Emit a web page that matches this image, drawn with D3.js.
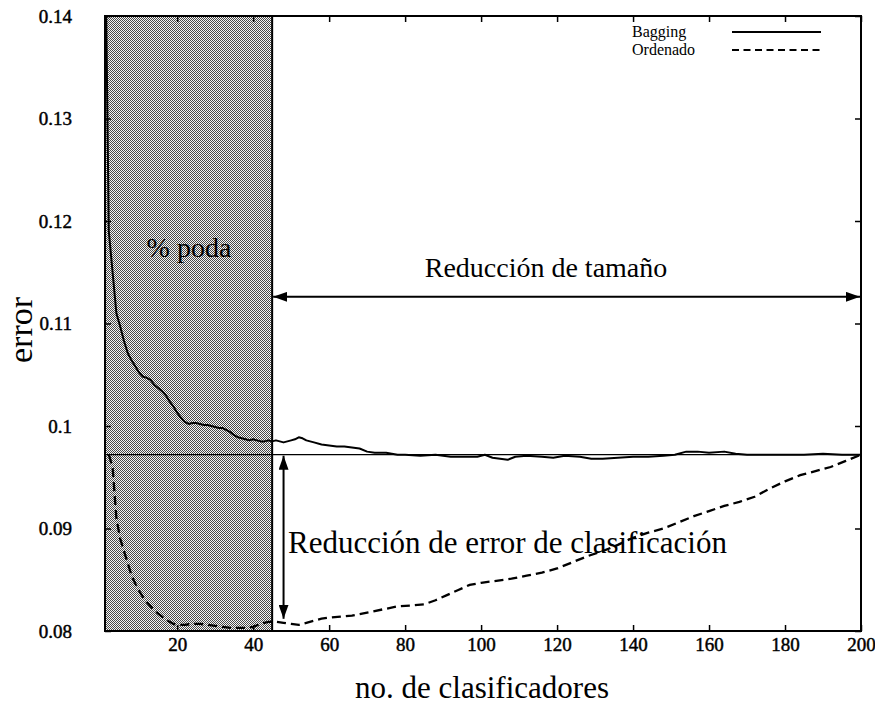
<!DOCTYPE html>
<html>
<head>
<meta charset="utf-8">
<script src="https://cdn.jsdelivr.net/npm/d3@7"></script>
<style>
  html, body { margin: 0; padding: 0; background: #fff; }
  svg { display: block; }
  text { font-family: "Liberation Serif", "Times New Roman", serif; fill: #000; }
</style>
</head>
<body>
<svg id="chart" width="875" height="709"></svg>
<script>
// Error of the full bagging ensemble as classifiers are added
const baggingN = [1,2,3,4,5,6,7,8,9,10,11,12,13,14,15,16,17,18,19,20,21,22,23,24,25,26,27,28,29,30,
  31,32,33,34,35,36,37,38,39,40,41,42,43,44,45,46,47,48,49,50,51,52,53,54,55,56,58,60,62,64,66,68,70,72,75,78,80,84,88,
  92,96,99,101,103,105,107,109,112,116,119,122,126,129,132,136,140,144,148,151,154,157,160,164,167,170,175,180,185,190,195,200];
const baggingErr = [0.1500,0.1190,0.1150,0.1110,0.1097,0.1083,0.1071,0.1064,0.1058,0.1052,0.1048,0.1047,0.1045,0.1040,0.1037,
  0.1034,0.1030,0.1024,0.1019,0.1013,0.1008,0.1004,0.1002,0.1003,0.1003,0.1002,0.1001,0.1001,0.1000,0.0999,
  0.0998,0.0998,0.0996,0.0994,0.0991,0.0989,0.0988,0.0987,0.0986,0.0987,0.0986,0.0985,0.0985,0.0986,0.0985,
  0.0986,0.0985,0.0984,0.0985,0.0986,0.0987,0.0989,0.0988,0.0986,0.0985,0.0984,0.0982,0.0981,0.0980,0.0980,
  0.0979,0.0978,0.0975,0.0974,0.0974,0.0972,0.0972,0.0971,0.0972,0.0970,0.0970,0.0970,0.0972,0.0969,0.0968,
  0.0967,0.0970,0.0971,0.0970,0.0969,0.0971,0.0970,0.0968,0.0968,0.0969,0.0970,0.0970,0.0971,0.0972,0.0975,
  0.0975,0.0974,0.0975,0.0973,0.0972,0.0972,0.0972,0.0972,0.0973,0.0972,0.0972];

// Error of the ordered (pruned) ensemble
const ordenadoN = [2,3,4,5,6,7,8,9,10,11,12,13,14,15,16,17,18,19,20,22,24,26,28,30,32,34,36,38,40,42,44,46,48,50,52,54,56,58,60,
  63,66,70,74,78,82,85,88,91,94,97,100,104,108,112,116,120,124,128,132,136,140,144,148,152,156,160,164,168,172,176,180,184,188,192,196,200];
const ordenadoErr = [0.0972,0.0960,0.0910,0.0890,0.0878,0.0866,0.0854,0.0846,0.0839,0.0833,0.0828,0.0824,0.0820,0.0817,0.0814,
  0.0811,0.0809,0.0807,0.0806,0.0806,0.0807,0.0807,0.0806,0.0805,0.0804,0.0803,0.0803,0.0803,0.0804,0.0807,0.0809,0.0809,
  0.0808,0.0807,0.0806,0.0808,0.0810,0.0812,0.0813,0.0814,0.0815,0.0818,0.0821,0.0824,0.0825,0.0826,0.0830,0.0835,0.0840,
  0.0845,0.0847,0.0849,0.0851,0.0854,0.0857,0.0861,0.0867,0.0873,0.0878,0.0884,0.0891,0.0896,0.0900,0.0906,0.0912,0.0917,
  0.0922,0.0926,0.0931,0.0939,0.0946,0.0952,0.0956,0.0960,0.0966,0.0972];

const seriesNames = ["Bagging", "Ordenado"];
const xTicks = [20,40,60,80,100,120,140,160,180,200];
const yTicks = [0.08,0.09,0.10,0.11,0.12,0.13,0.14];
const yTickLabels = ["0.08","0.09","0.1","0.11","0.12","0.13","0.14"];

// Annotations
const podaEnd = 45;            // classifiers kept after pruning
const finalErr = 0.0972;       // error of the complete ensemble
const arrowN = 48;             // position of the error-reduction arrow
const arrowLowErr = 0.0809;    // error reached by the pruned ensemble
const sizeArrowErr = 0.1126;   // height of the size-reduction arrow

const margin = {left: 105, right: 14, top: 16, bottom: 78};
const W = 875, H = 709;
const svg = d3.select("#chart");
const serif = '"Liberation Serif", "Times New Roman", serif';

const x = d3.scaleLinear().domain([1, 200]).range([margin.left, W - margin.right]);
const y = d3.scaleLinear().domain([0.08, 0.14]).range([H - margin.bottom, margin.top]);

const defs = svg.append("defs");
const pat = defs.append("pattern").attr("id", "dither")
  .attr("patternUnits", "userSpaceOnUse").attr("width", 2).attr("height", 2);
pat.append("rect").attr("width", 2).attr("height", 2).attr("fill", "#f6f6f6");
pat.append("rect").attr("x", 0).attr("y", 0).attr("width", 1).attr("height", 1).attr("fill", "#4a4a4a");
pat.append("rect").attr("x", 1).attr("y", 1).attr("width", 1).attr("height", 1).attr("fill", "#4a4a4a");

defs.append("clipPath").attr("id", "plotclip").append("rect")
  .attr("x", x(1)).attr("y", y(0.14)).attr("width", x(200) - x(1)).attr("height", y(0.08) - y(0.14));

const arrowHead = defs.append("marker").attr("id", "head")
  .attr("viewBox", "0 0 14 10").attr("refX", 14).attr("refY", 5)
  .attr("markerWidth", 14).attr("markerHeight", 10).attr("markerUnits", "userSpaceOnUse")
  .attr("orient", "auto-start-reverse");
arrowHead.append("path").attr("d", "M0,0 L14,5 L0,10 Z").attr("fill", "#000");

// Pruned region
svg.append("rect")
  .attr("x", x(1)).attr("y", y(0.14))
  .attr("width", x(podaEnd) - x(1)).attr("height", y(0.08) - y(0.14))
  .attr("fill", "url(#dither)");
svg.append("line")
  .attr("x1", x(podaEnd)).attr("x2", x(podaEnd)).attr("y1", y(0.14)).attr("y2", y(0.08))
  .attr("stroke", "#000").attr("stroke-width", 2);

// Reference level of the complete ensemble
svg.append("line")
  .attr("x1", x(1)).attr("x2", x(200)).attr("y1", y(finalErr)).attr("y2", y(finalErr))
  .attr("stroke", "#000").attr("stroke-width", 1.3);

const line = d3.line().x(d => x(d[0])).y(d => y(d[1]));
const plot = svg.append("g").attr("clip-path", "url(#plotclip)");
plot.append("path")
  .datum(baggingN.map((n, i) => [n, baggingErr[i]]))
  .attr("d", line).attr("fill", "none").attr("stroke", "#000").attr("stroke-width", 2)
  .attr("stroke-linejoin", "round");
plot.append("path")
  .datum(ordenadoN.map((n, i) => [n, ordenadoErr[i]]))
  .attr("d", line).attr("fill", "none").attr("stroke", "#000").attr("stroke-width", 2.3)
  .attr("stroke-dasharray", "9,5");

// Axes with inward ticks on all four sides
const fmtY = d => yTickLabels[yTicks.indexOf(d)];
const axB = svg.append("g").attr("transform", `translate(0,${y(0.08)})`)
  .call(d3.axisBottom(x).tickValues(xTicks).tickSize(-6).tickPadding(7));
const axT = svg.append("g").attr("transform", `translate(0,${y(0.14)})`)
  .call(d3.axisTop(x).tickValues(xTicks).tickSize(-6).tickFormat(""));
const axL = svg.append("g").attr("transform", `translate(${x(1)},0)`)
  .call(d3.axisLeft(y).tickValues(yTicks).tickSize(-6).tickPadding(33).tickFormat(fmtY));
const axR = svg.append("g").attr("transform", `translate(${x(200)},0)`)
  .call(d3.axisRight(y).tickValues(yTicks).tickSize(-6).tickFormat(""));
[axB, axT, axL, axR].forEach(g => {
  g.select(".domain").remove();
  g.attr("font-family", null).attr("font-size", null);
  g.selectAll(".tick line").attr("stroke", "#000").attr("stroke-width", 1.5);
  g.selectAll("text")
    .style("font-family", serif).style("font-size", "19px").style("font-weight", "normal")
    .style("stroke", "#000").style("stroke-width", "0.45px");
});

// Frame
svg.append("rect")
  .attr("x", x(1)).attr("y", y(0.14)).attr("width", x(200) - x(1)).attr("height", y(0.08) - y(0.14))
  .attr("fill", "none").attr("stroke", "#000").attr("stroke-width", 2);

// Legend
const legend = svg.append("g");
seriesNames.forEach((name, i) => {
  const ly = 32 + i * 18;
  legend.append("text").attr("x", 632).attr("y", ly + 5).style("font-size", "16px").text(name);
  legend.append("line").attr("x1", 732).attr("x2", 821).attr("y1", ly).attr("y2", ly)
    .attr("stroke", "#000").attr("stroke-width", 2)
    .attr("stroke-dasharray", i === 1 ? "7,4.5" : null);
});

// Annotation arrows and labels
svg.append("line")
  .attr("x1", x(podaEnd) + 1).attr("x2", x(200) - 1).attr("y1", y(sizeArrowErr)).attr("y2", y(sizeArrowErr))
  .attr("stroke", "#000").attr("stroke-width", 2)
  .attr("marker-start", "url(#head)").attr("marker-end", "url(#head)");
svg.append("line")
  .attr("x1", x(arrowN)).attr("x2", x(arrowN)).attr("y1", y(finalErr) + 1).attr("y2", y(arrowLowErr) - 3)
  .attr("stroke", "#000").attr("stroke-width", 2)
  .attr("marker-start", "url(#head)").attr("marker-end", "url(#head)");

svg.append("text").attr("x", 546).attr("y", 277).attr("text-anchor", "middle")
  .style("font-size", "28px").text("Reducción de tamaño");
svg.append("text").attr("x", 288).attr("y", 553)
  .style("font-size", "31px").text("Reducción de error de clasificación");
svg.append("text").attr("x", 189).attr("y", 257).attr("text-anchor", "middle")
  .style("font-size", "28px").text("% poda");

// Axis titles
svg.append("text").attr("x", 482).attr("y", 698).attr("text-anchor", "middle")
  .style("font-size", "31px").text("no. de clasificadores");
svg.append("text").attr("transform", "translate(32,330) rotate(-90)").attr("text-anchor", "middle")
  .style("font-size", "34px").text("error");
</script>
</body>
</html>
